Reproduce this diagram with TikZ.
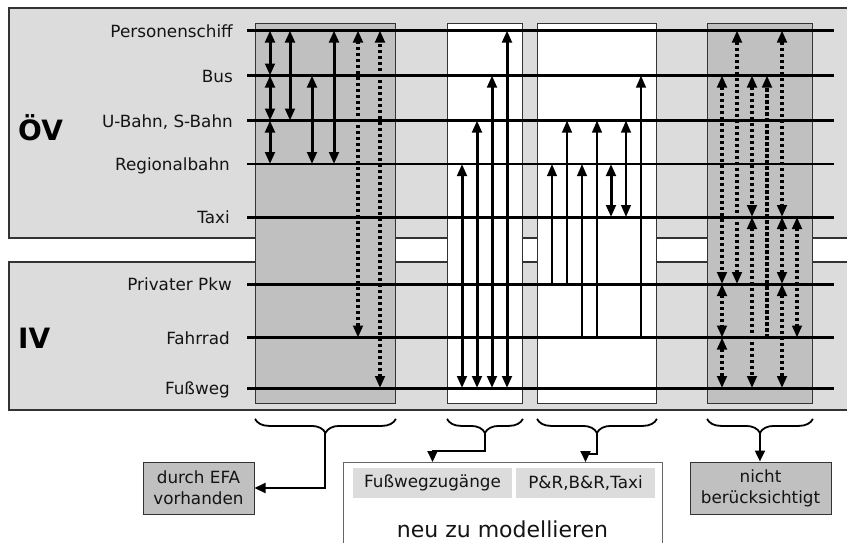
\documentclass[tikz,border=0pt]{standalone}
\usepackage{fontspec}
\setmainfont{DejaVu Sans}
\usetikzlibrary{arrows.meta,decorations.pathreplacing}

\definecolor{panelgray}{HTML}{DCDCDC}
\definecolor{colgray}{HTML}{C0C0C0}
\definecolor{inkgray}{HTML}{141414}

\tikzset{
  panel/.style={fill=panelgray, draw=black!80, line width=1.5pt},
  colbox/.style={draw=black!80, line width=0.9pt, anchor=north west,
                 inner sep=0pt, minimum height=380pt},
  modeline/.style={line width=3pt, black},
  modelabel/.style={anchor=base east, inner sep=0pt, text=inkgray,
                    font=\fontsize{16.8}{19}\selectfont},
  grouplabel/.style={anchor=base west, inner sep=0pt,
                     font=\fontsize{28}{30}\selectfont\bfseries},
  link/.style={line width=3pt},
  thinlink/.style={line width=2.4pt},
  dotlink/.style={line width=3.2pt, dash pattern=on 3.2pt off 2.8pt},
  up/.style={-{Triangle[length=12pt,width=9.5pt]}},
  both/.style={{Triangle[length=12pt,width=9.5pt]}-{Triangle[length=12pt,width=9.5pt]}},
  brace/.style={decorate, decoration={brace, amplitude=14pt}, line width=1.8pt},
  conn/.style={line width=2pt, -{Triangle[length=11pt,width=10pt]}},
  resultbox/.style={draw=black!80, line width=1pt, fill=colgray, inner sep=0pt,
                    minimum height=52pt, align=center, text=inkgray,
                    font=\fontsize{16.8}{21}\selectfont},
  tagbox/.style={fill=panelgray, inner sep=0pt, minimum height=30pt, text=inkgray,
                 font=\fontsize{16.8}{19}\selectfont},
}

% vertical connection between two mode lines: style, x, from-line, to-line
\newcommand\vlink[4]{\draw[#1] (#2,0 |- #3) -- (#2,0 |- #4);}

\begin{document}
\begin{tikzpicture}[x=1pt,y=-1pt]
\useasboundingbox (0,0) rectangle (847,542);
\clip (0,0) rectangle (847,542);

% group panels
\draw[panel] (9,8) rectangle (870,238);
\draw[panel] (9,262) rectangle (870,410);
\node[grouplabel] (oev) at (18,140) {ÖV};
\node[grouplabel] (iv) at (18,348) {IV};

% columns of connection types
\node[colbox, fill=colgray, minimum width=140pt] (c1) at (255,23) {};
\node[colbox, fill=white,   minimum width=75pt]  (c2) at (447,23) {};
\node[colbox, fill=white,   minimum width=119pt] (c3) at (537,23) {};
\node[colbox, fill=colgray, minimum width=105pt] (c4) at (707,23) {};

% mode lines
\coordinate (pers)  at (247,30.5);
\coordinate (bus)   at (247,75.5);
\coordinate (ubahn) at (247,120.5);
\coordinate (reg)   at (247,164);
\coordinate (taxi)  at (247,217);
\coordinate (pkw)   at (247,284);
\coordinate (rad)   at (247,337.5);
\coordinate (fuss)  at (247,388);

\draw[modeline] (pers) -- ++(587,0);
\draw[modeline] (bus) -- ++(587,0);
\draw[modeline, line width=2.2pt] (ubahn) -- ++(587,0);
\draw[modeline, line width=2.7pt] (reg) -- ++(587,0);
\draw[modeline] (taxi) -- ++(587,0);
\draw[modeline] (pkw) -- ++(587,0);
\draw[modeline] (rad) -- ++(587,0);
\draw[modeline] (fuss) -- ++(587,0);

\node[modelabel] (tpers)  at ([xshift=-14pt,yshift=-6.5pt]pers)  {Personenschiff};
\node[modelabel] (tbus)   at ([xshift=-14pt,yshift=-6.5pt]bus)   {Bus};
\node[modelabel] (tubahn) at ([xshift=-14pt,yshift=-6.5pt]ubahn) {U-Bahn, S-Bahn};
\node[modelabel] (treg)   at ([xshift=-17pt,yshift=-6.5pt]reg)   {Regionalbahn};
\node[modelabel] (ttaxi)  at ([xshift=-17pt,yshift=-6.5pt]taxi)  {Taxi};
\node[modelabel] (tpkw)   at ([xshift=-15pt,yshift=-6.5pt]pkw)   {Privater Pkw};
\node[modelabel] (trad)   at ([xshift=-17pt,yshift=-6.5pt]rad)   {Fahrrad};
\node[modelabel] (tfuss)  at ([xshift=-17pt,yshift=-6.5pt]fuss)  {Fußweg};

% column 1: connections already available
\vlink{link,both}{270}{pers}{bus}
\vlink{link,both}{270}{bus}{ubahn}
\vlink{link,both}{270}{ubahn}{reg}
\vlink{link,both}{290}{pers}{ubahn}
\vlink{link,both}{312}{bus}{reg}
\vlink{link,both}{334}{pers}{reg}
\vlink{dotlink,both}{358}{rad}{pers}
\vlink{dotlink,both}{380}{fuss}{pers}

% column 2: footpath access
\vlink{link,both}{462}{fuss}{reg}
\vlink{link,both}{477}{fuss}{ubahn}
\vlink{link,both}{492}{fuss}{bus}
\vlink{link,both}{507}{fuss}{pers}

% column 3: P&R, B&R, taxi
\vlink{thinlink,up}{552}{pkw}{reg}
\vlink{thinlink,up}{567}{pkw}{ubahn}
\vlink{thinlink,up}{582}{rad}{reg}
\vlink{thinlink,up}{597}{rad}{ubahn}
\vlink{link,both}{611}{reg}{taxi}
\vlink{thinlink,both}{626}{ubahn}{taxi}
\vlink{thinlink,up}{641}{rad}{bus}

% column 4: not considered
\vlink{dotlink,both}{722}{bus}{pkw}
\vlink{dotlink,both}{722}{pkw}{rad}
\vlink{dotlink,both}{722}{rad}{fuss}
\vlink{dotlink,both}{737}{pers}{pkw}
\vlink{dotlink,both}{752}{bus}{taxi}
\vlink{dotlink,both}{752}{taxi}{fuss}
\vlink{dotlink,up}{767}{rad}{bus}
\vlink{dotlink,both}{782}{pers}{taxi}
\vlink{dotlink,both}{782}{taxi}{pkw}
\vlink{dotlink,both}{782}{pkw}{fuss}
\vlink{dotlink,both}{797}{taxi}{rad}

% braces below the columns
\draw[brace] ([yshift=-15pt]c1.south east) -- ([yshift=-15pt]c1.south west);
\draw[brace] ([yshift=-15pt]c2.south east) -- ([yshift=-15pt]c2.south west);
\draw[brace] ([yshift=-15pt]c3.south east) -- ([yshift=-15pt]c3.south west);
\draw[brace] ([yshift=-15pt]c4.south east) -- ([yshift=-15pt]c4.south west);
\coordinate (b1) at ([yshift=-29pt]c1.south);
\coordinate (b2) at ([yshift=-29pt]c2.south);
\coordinate (b3) at ([yshift=-29pt]c3.south);
\coordinate (b4) at ([yshift=-29pt]c4.south);

% result boxes
\node[resultbox, minimum width=111pt] (efa) at (198.5,488) {durch EFA\\vorhanden};
\node[resultbox, minimum width=141pt] (nicht) at (760.5,488) {nicht\\berücksichtigt};
\node[draw=black!60, line width=0.8pt, fill=white, anchor=north west, inner sep=0pt,
      minimum width=319pt, minimum height=110pt] (neu) at (343,462) {};
\node[tagbox, minimum width=159pt] (fw) at (432.5,483) {Fußwegzugänge};
\node[tagbox, minimum width=139pt] (pr) at (585.5,483) {P\&R,B\&R,Taxi};
\node[anchor=base, inner sep=0pt, text=inkgray, font=\fontsize{22}{24}\selectfont]
     (neutitle) at (502.5,537) {neu zu modellieren};

% connectors from braces to result boxes
\draw[conn] (b1) |- (efa.east);
\draw[conn] (b2) -- ++(0,18) -| (fw.north |- neu.north);
\draw[conn] (b3) -- ++(0,21) -| (pr.north |- neu.north);
\draw[conn] (b4) -- (b4 |- nicht.north);
\end{tikzpicture}
\end{document}
